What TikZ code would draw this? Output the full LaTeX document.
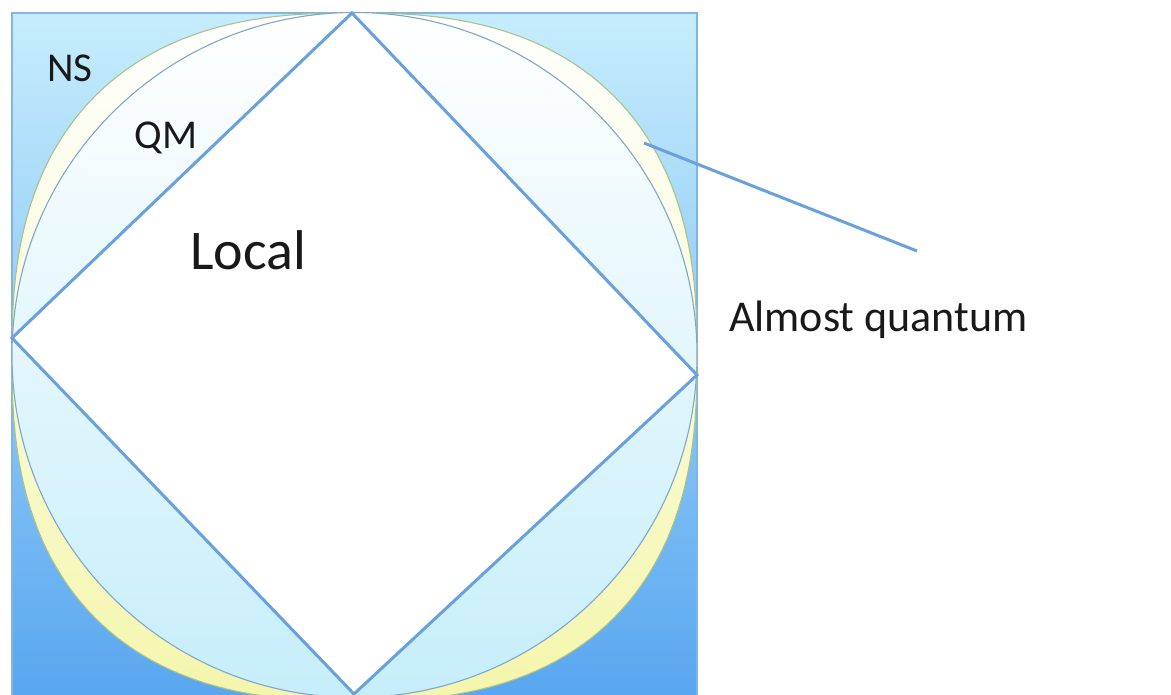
\documentclass[tikz,border=0pt]{standalone}
\usepackage{fontspec}
\setmainfont{Carlito}
\begin{document}
\begin{tikzpicture}[x=1pt,y=-1pt,
  nsbox/.style={draw=nsedge,line width=1.2pt,top color=nstop,bottom color=nsbottom},
  aqshape/.style={draw=aqedge,line width=1.1pt,top color=white,middle color=aqmid,bottom color=aqbottom},
  qmshape/.style={draw=qmedge,line width=1.1pt,top color=white,bottom color=qmbottom},
  localbox/.style={draw=localedge,line width=3pt,fill=white,line join=miter},
  pointer/.style={draw=localedge,line width=3pt},
  lbl/.style={text=black!90,inner sep=0pt}]
\definecolor{nstop}{RGB}{198,237,252}
\definecolor{nsbottom}{RGB}{88,166,240}
\definecolor{nsedge}{RGB}{130,180,228}
\definecolor{aqmid}{RGB}{254,254,246}
\definecolor{aqbottom}{RGB}{244,246,172}
\definecolor{aqedge}{RGB}{170,194,140}
\definecolor{qmbottom}{RGB}{198,238,250}
\definecolor{qmedge}{RGB}{128,166,206}
\definecolor{localedge}{RGB}{106,160,220}
\useasboundingbox (0,0) rectangle (1171,695);
% NS square
\path[nsbox] (12,13) rectangle (697,700);
% almost quantum (superellipse)
\path[aqshape] plot[domain=1:361,samples=181]
  ({354.5+342.5*sign(cos(\x))*abs(cos(\x))^0.8},{357+344*sign(sin(\x))*abs(sin(\x))^0.8}) -- cycle;
% QM circle
\path[qmshape] (354.5,355) circle[radius=342.5];
% Local diamond
\coordinate (dt) at (352,13);
\coordinate (dl) at (12,338);
\coordinate (db) at (354,694);
\coordinate (dr) at (697,375);
\path[localbox] (dt) -- (dl) -- (db) -- (dr) -- cycle;
% labels
\node[lbl,font=\fontsize{41}{41}\selectfont] (ns) at (70,68) {NS};
\node[lbl,font=\fontsize{41}{41}\selectfont] (qm) at (166,138) {QM};
\node[lbl,font=\fontsize{56}{56}\selectfont] (local) at (248,250) {Local};
\node[lbl,font=\fontsize{44}{44}\selectfont,anchor=west] (aq) at (729,320) {Almost quantum};
% pointer
\coordinate (ptip) at (644,143);
\coordinate (pend) at (917,251);
\draw[pointer] (ptip) -- (pend);
\end{tikzpicture}
\end{document}
